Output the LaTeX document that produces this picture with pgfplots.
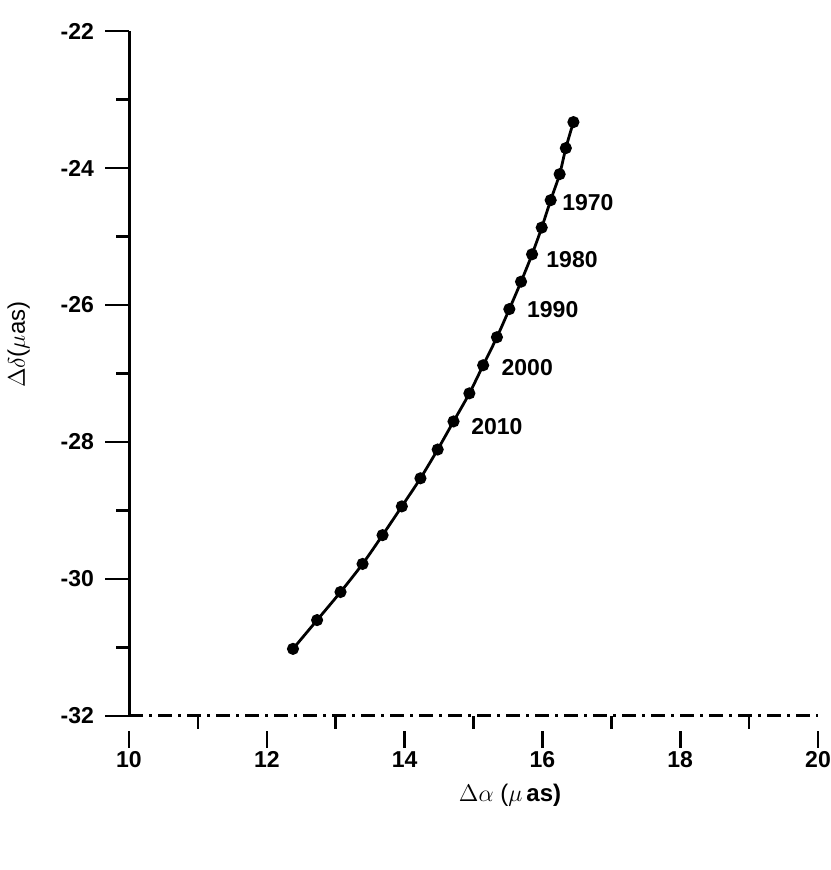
\documentclass[border=0pt]{standalone}
\usepackage{fontspec}
\setmainfont{Liberation Sans}
\usepackage{pgfplots}
\pgfplotsset{compat=1.18}
\begin{document}
\begin{tikzpicture}
\useasboundingbox (-64.5pt,-77pt) rectangle (350.5pt,358pt);
\begin{axis}[
  at={(0,0)}, anchor=south west,
  scale only axis,
  width=344.5pt, height=342.5pt,
  xmin=10, xmax=20, ymin=-32, ymax=-22,
  axis x line=bottom, axis y line=left,
  axis line style={-, line width=1.5pt},
  x axis line style={dash pattern=on 7pt off 3pt on 1.5pt off 3pt},
  xtick={10,12,...,20}, ytick={-32,-30,...,-22},
  minor x tick num=1, minor y tick num=1,
  tick align=outside,
  major tick length=12pt, minor tick length=6.5pt,
  every tick/.style={black, line width=1.3pt},
  every major x tick/.append style={yshift=-4pt, dash pattern=on 8.5pt off 20pt},
  tick label style={font=\bfseries\fontsize{11.5}{13}\selectfont},
  /pgf/number format/assume math mode=true,
  xticklabel style={yshift=-1.5pt, text height=8.5pt, text depth=0pt},
  yticklabel style={xshift=-2pt},
  xlabel={$\Delta\alpha$ (${\mu}$\,\textbf{as)}},
  ylabel={$\Delta\delta$(${\mu}$as)},
  x label style={at={(axis description cs:0.553,0)}, anchor=center, yshift=-39.5pt, font=\fontsize{12}{14}\selectfont},
  y label style={at={(axis description cs:-0.16,0.542)}, anchor=center, font=\fontsize{12}{14}\selectfont},
  clip=false,
]
\addplot[black, line width=1.4pt, mark=*, mark size=2.3pt, smooth] coordinates {
  (16.45,-23.33) (16.34,-23.71) (16.25,-24.09) (16.12,-24.47) (15.99,-24.87)
  (15.85,-25.26) (15.69,-25.66) (15.52,-26.06) (15.34,-26.47) (15.14,-26.88)
  (14.94,-27.29) (14.71,-27.70) (14.48,-28.11) (14.23,-28.53) (13.96,-28.94)
  (13.68,-29.36) (13.39,-29.78) (13.07,-30.19) (12.73,-30.60) (12.38,-31.02)
};
\begin{scope}[every node/.style={font=\bfseries\fontsize{11.5}{13}\selectfont}]
\node at (axis cs:16.66,-24.51) {1970};
\node at (axis cs:16.43,-25.34) {1980};
\node at (axis cs:16.15,-26.06) {1990};
\node at (axis cs:15.78,-26.91) {2000};
\node at (axis cs:15.34,-27.78) {2010};
\end{scope}
\end{axis}
\end{tikzpicture}
\end{document}
